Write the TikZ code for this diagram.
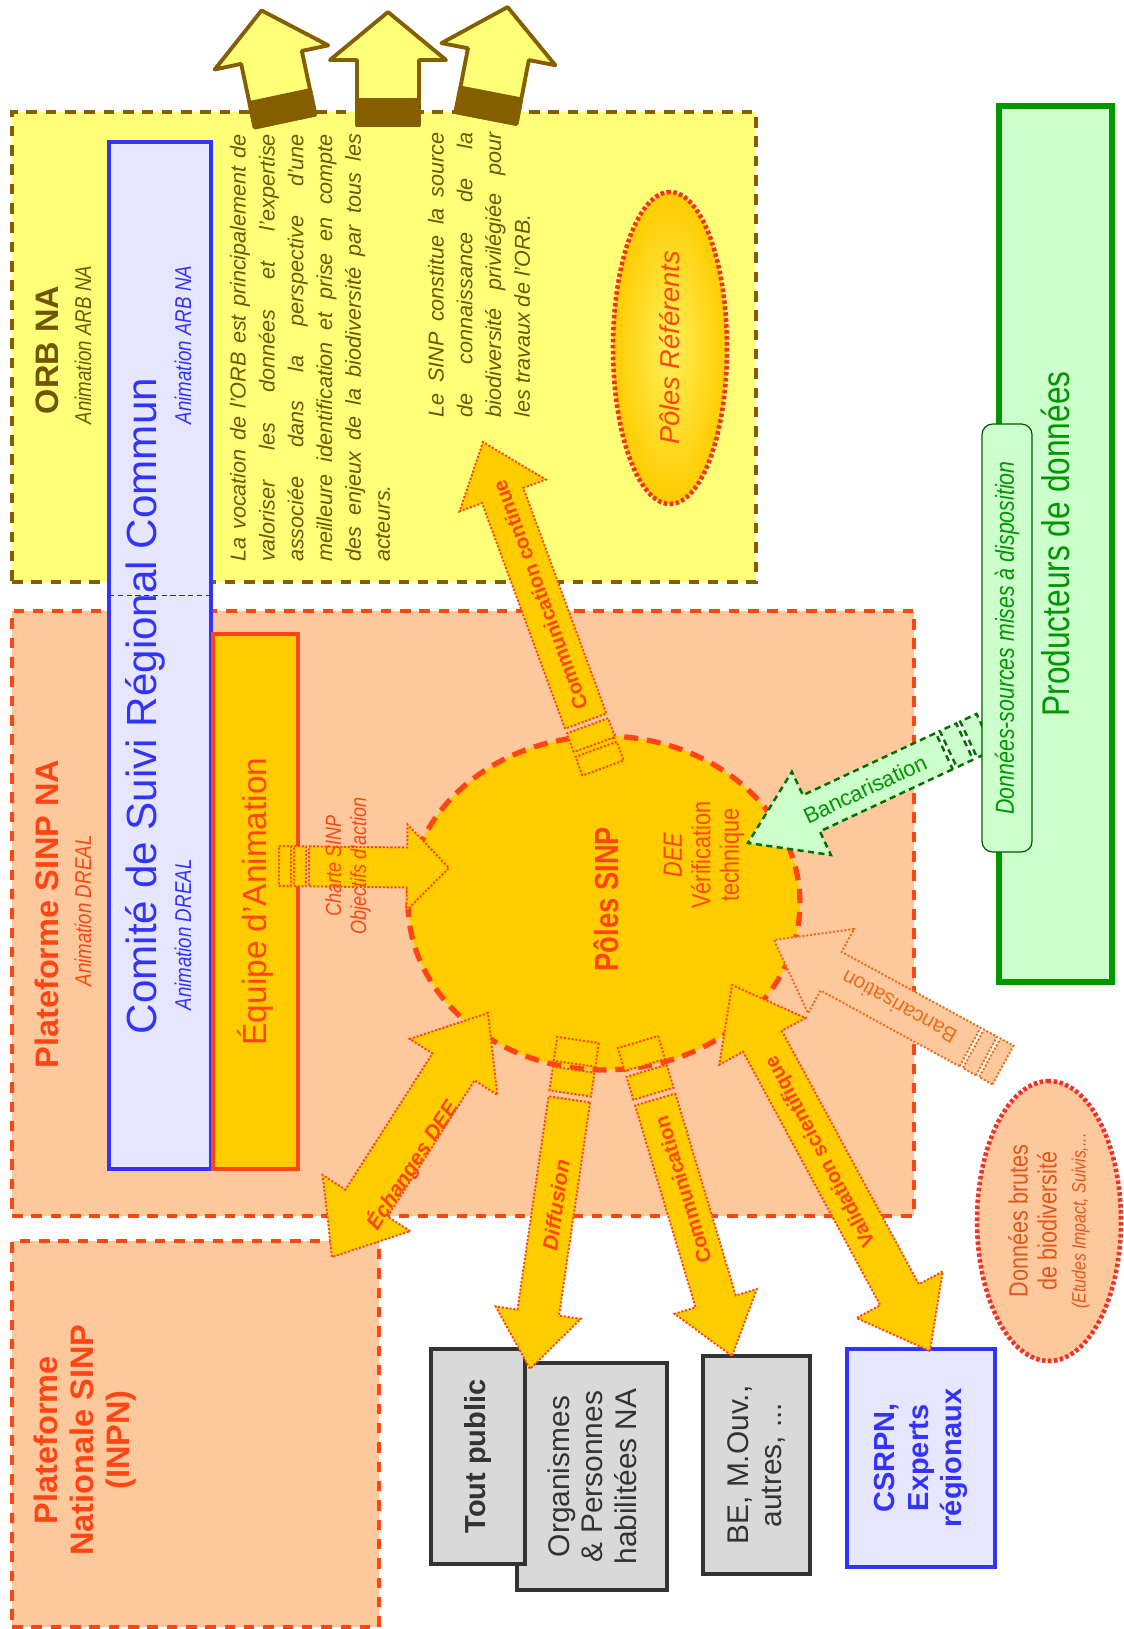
\documentclass[tikz,border=0pt]{standalone}
\usepackage{fontspec}
\setmainfont{Liberation Sans}
\newfontfamily\narrowfont[FakeStretch=0.82]{Liberation Sans}
\usetikzlibrary{calc,shapes.geometric}

\definecolor{orbfill}{RGB}{255,255,120}
\definecolor{orbbrown}{RGB}{133,94,0}
\definecolor{orbtext}{RGB}{112,86,0}
\definecolor{platfill}{RGB}{253,200,155}
\definecolor{sinpred}{RGB}{255,69,20}
\definecolor{sinpgold}{RGB}{255,204,0}
\definecolor{refcenter}{RGB}{255,240,90}
\definecolor{refred}{RGB}{240,50,40}
\definecolor{comitefill}{RGB}{230,230,255}
\definecolor{comiteblue}{RGB}{51,51,255}
\definecolor{prodfill}{RGB}{204,255,204}
\definecolor{prodgreen}{RGB}{0,150,0}
\definecolor{greyfill}{RGB}{217,217,217}
\definecolor{greyline}{RGB}{51,51,51}
\definecolor{bancorange}{RGB}{235,110,30}
\definecolor{brutestext}{RGB}{226,86,30}

\newcommand{\fsz}[2]{\fontsize{#1}{#2}\selectfont}

% striped block arrow: style, tail, tip, shaft, head width, head length, stripe unit (px)
\newcommand{\stripedarrow}[7]{%
  \coordinate (sa1) at ($(#2)!{#7*0.02cm}!(#3)$);
  \coordinate (sa2) at ($(#2)!{1.25*#7*0.02cm}!(#3)$);
  \coordinate (sa3) at ($(#2)!{2.25*#7*0.02cm}!(#3)$);
  \coordinate (sa4) at ($(#2)!{2.5*#7*0.02cm}!(#3)$);
  \coordinate (san) at ($(#3)!{#6*0.02cm}!(#2)$);
  \draw[#1] ($(#2)!{#4*0.02cm}!90:(#3)$) -- ($(sa1)!{#4*0.02cm}!90:(#3)$)
    -- ($(sa1)!{#4*0.02cm}!-90:(#3)$) -- ($(#2)!{#4*0.02cm}!-90:(#3)$) -- cycle;
  \draw[#1] ($(sa2)!{#4*0.02cm}!90:(#3)$) -- ($(sa3)!{#4*0.02cm}!90:(#3)$)
    -- ($(sa3)!{#4*0.02cm}!-90:(#3)$) -- ($(sa2)!{#4*0.02cm}!-90:(#3)$) -- cycle;
  \draw[#1] ($(sa4)!{#4*0.02cm}!90:(#3)$) -- ($(san)!{#4*0.02cm}!90:(#3)$)
    -- ($(san)!{#5*0.02cm}!90:(#3)$) -- (#3)
    -- ($(san)!{#5*0.02cm}!-90:(#3)$) -- ($(san)!{#4*0.02cm}!-90:(#3)$)
    -- ($(sa4)!{#4*0.02cm}!-90:(#3)$) -- cycle;
}
% double block arrow: style, end A, end B, shaft, head width, head length (px)
\newcommand{\doublearrow}[6]{%
  \coordinate (da1) at ($(#2)!{#6*0.02cm}!(#3)$);
  \coordinate (da2) at ($(#3)!{#6*0.02cm}!(#2)$);
  \draw[#1] (#2) -- ($(da1)!{#5*0.02cm}!90:(#3)$) -- ($(da1)!{#4*0.02cm}!90:(#3)$)
    -- ($(da2)!{#4*0.02cm}!90:(#3)$) -- ($(da2)!{#5*0.02cm}!90:(#3)$) -- (#3)
    -- ($(da2)!{#5*0.02cm}!-90:(#3)$) -- ($(da2)!{#4*0.02cm}!-90:(#3)$)
    -- ($(da1)!{#4*0.02cm}!-90:(#3)$) -- ($(da1)!{#5*0.02cm}!-90:(#3)$) -- cycle;
}

\begin{document}
\begin{tikzpicture}[x=0.02cm, y=-0.02cm,
    vert/.style={rotate=90},
    frame/.style={rectangle, inner sep=0pt, line width=2.2pt, dash pattern=on 6pt off 5pt},
    orbframe/.style={frame, draw=orbbrown, fill=orbfill},
    platframe/.style={frame, draw=sinpred, fill=platfill},
    plainbox/.style={rectangle, vert, inner sep=0pt, line width=2.4pt, align=center},
    greybox/.style={plainbox, draw=greyline, fill=greyfill, text=greyline, font=\fsz{17}{19}},
    dotellipse/.style={ellipse, vert, inner sep=0pt, draw=refred, line width=2.6pt,
                       dash pattern=on 2pt off 1.4pt, align=center},
    goldarrow/.style={fill=sinpgold, draw=sinpred, line width=1.1pt, dash pattern=on 1.2pt off 1pt},
    greenarrow/.style={fill=prodfill, draw=prodgreen!75!black, line width=1.4pt, dash pattern=on 3.5pt off 2.5pt},
    peacharrow/.style={fill=platfill, draw=bancorange, line width=1.1pt, dash pattern=on 1.2pt off 1pt},
    arrowlabel/.style={text=sinpred, font=\bfseries\fsz{11.5}{13}},
    heading/.style={vert, font=\bfseries\fsz{18.5}{21}},
    subheading/.style={vert, font=\narrowfont\itshape\fsz{13}{15}},
    orbtop/.pic={
      \filldraw[fill=orbfill, draw=orbbrown, line width=2.2pt, line join=round]
        (-31,0) -- (-31,-65) -- (-58,-65) -- (0,-113) -- (58,-65) -- (31,-65) -- (31,0) -- cycle;
      \filldraw[fill=orbbrown, draw=orbbrown, line width=2.2pt, line join=round] (-31,0) rectangle (31,-25);
    }
  ]
  \useasboundingbox (0,0) rectangle (1123,1629);

  %% Containers
  \node[orbframe, minimum width=14.88cm, minimum height=9.4cm] (orb) at (384,347) {};
  \node[platframe, minimum width=18.04cm, minimum height=12.1cm] (plat) at (463,913.5) {};
  \node[platframe, minimum width=7.34cm, minimum height=7.72cm] (inpn) at (195.5,1434) {};
  \node[plainbox, draw=prodgreen, fill=prodfill, line width=3pt, minimum width=17.52cm, minimum height=2.26cm,
        text=prodgreen, font=\narrowfont\fsz{22}{26}] (prod) at (1055.5,544) {Producteurs de données};

  %% Comite and animation team
  \node[rectangle, inner sep=0pt, draw=comiteblue, fill=comitefill, line width=2.4pt,
        minimum width=2.04cm, minimum height=20.54cm] (comite) at (160,655.5) {};
  \draw[densely dashed, thin, comiteblue!70!black] (109,595) -- (211,595);
  \node[plainbox, draw=sinpred, fill=sinpgold, minimum width=10.7cm, minimum height=1.7cm,
        text=sinpred, font=\fsz{19}{22}] (equipe) at (255.5,901.5) {Équipe d'Animation};

  %% Arrows leaving the ORB
  \pic[rotate=12] at (285,121) {orbtop};
  \pic at (388,125) {orbtop};
  \pic[rotate=-11] at (486,118) {orbtop};

  %% Titles
  \node[heading, text=orbtext] (orbtitle) at (47,350) {ORB NA};
  \node[subheading, text=orbtext] (orbsub) at (83,345) {Animation ARB NA};
  \node[heading, text=sinpred] (plattitle) at (47,914) {Plateforme SINP NA};
  \node[subheading, text=sinpred] (platsub) at (83,911) {Animation DREAL};
  \node[heading, text=sinpred, align=center, font=\bfseries\fsz{18.5}{20.5}] (inpntitle) at (85,1440)
        {Plateforme\\Nationale SINP\\(INPN)};
  \node[vert, text=comiteblue, font=\fsz{24}{28}] (comitetitle) at (145,706) {Comité de Suivi Régional Commun};
  \node[subheading, text=comiteblue] (comiteorb) at (183,345) {Animation ARB NA};
  \node[subheading, text=comiteblue] (comiteplat) at (183,935) {Animation DREAL};

  %% ORB texts
  \node[vert, text=orbtext, text width=8.56cm, align=justify, font=\itshape\fsz{12.3}{16.4}] (vocation) at (310,348)
        {La vocation de l'ORB est principalement de\linebreak valoriser les données et l'expertise\linebreak
         associée dans la perspective d'une\linebreak meilleure identification et prise en compte\linebreak
         des enjeux de la biodiversité par tous les\linebreak acteurs.};
  \node[vert, text=orbtext, text width=5.7cm, align=justify, font=\itshape\fsz{12.3}{16.4}] (sinpsource) at (479,275)
        {Le SINP constitue la source\linebreak de connaissance de la\linebreak
         biodiversité privilégiée pour\linebreak les travaux de l'ORB.};
  \node[dotellipse, inner color=refcenter, outer color=sinpgold, minimum width=6.24cm, minimum height=2.28cm,
        text=sinpred, font=\itshape\fsz{15.5}{18}] (polesref) at (670,348) {Pôles Référents};

  %% Raw data and receivers
  \node[dotellipse, fill=platfill, minimum width=5.6cm, minimum height=2.88cm, text=brutestext,
        font=\narrowfont\fsz{15}{16.5}] (brutes) at (1049,1221)
        {Données brutes\\de biodiversité\\{\itshape\fsz{11}{13}(Etudes Impact, Suivis,...}};
  \node[greybox, minimum width=4.54cm, minimum height=3.0cm] (orgs) at (592,1476.5)
        {Organismes\\\& Personnes\\habilitées NA};
  \node[greybox, font=\bfseries\fsz{16.5}{19}, minimum width=4.3cm, minimum height=1.88cm] (tout) at (478,1456.5)
        {Tout public};
  \node[greybox, minimum width=4.36cm, minimum height=2.14cm] (beautres) at (756.5,1465) {BE, M.Ouv.,\\autres, ...};
  \node[plainbox, draw=comiteblue, fill=comitefill, text=comiteblue, font=\bfseries\fsz{16.5}{19},
        minimum width=4.36cm, minimum height=2.96cm] (csrpn) at (921,1458) {CSRPN,\\Experts\\régionaux};

  %% Poles SINP
  \node[ellipse, inner sep=0pt, fill=sinpgold, draw=sinpred, line width=3pt, dash pattern=on 8pt off 5pt,
        minimum width=7.84cm, minimum height=6.68cm] (sinp) at (604,903) {};
  \node[vert, text=sinpred, font=\narrowfont\bfseries\fsz{19}{22}] (sinptitle) at (606,899) {Pôles SINP};
  \node[vert, text=sinpred, align=center, font=\narrowfont\fsz{15}{16.2}] (sinpdee) at (704,855)
        {\textit{DEE}\\Vérification\\technique};

  %% Arrow ends
  \coordinate (charteS) at (279,866);
  \coordinate (charteT) at (449,868);
  \coordinate (ccS) at (603,768);
  \coordinate (ccT) at (483,442);
  \coordinate (echA) at (332,1257);
  \coordinate (echB) at (488,1013);
  \coordinate (diffS) at (578,1040);
  \coordinate (diffT) at (530,1369);
  \coordinate (commS) at (638,1042);
  \coordinate (commT) at (732,1356);
  \coordinate (valA) at (930,1351);
  \coordinate (valB) at (732,985);
  \coordinate (bgS) at (985,732);
  \coordinate (bgT) at (748,843);
  \coordinate (bpS) at (1003,1065);
  \coordinate (bpT) at (774,940);

  %% Block arrows
  \stripedarrow{goldarrow}{charteS}{charteT}{20}{43}{42}{12}
  \stripedarrow{goldarrow}{ccS}{ccT}{22}{46}{57}{20}
  \doublearrow{goldarrow}{echA}{echB}{25}{52}{64}
  \stripedarrow{goldarrow}{diffS}{diffT}{21}{43}{57}{24}
  \stripedarrow{goldarrow}{commS}{commT}{21}{43}{57}{24}
  \doublearrow{goldarrow}{valA}{valB}{22}{49}{64}
  \stripedarrow{greenarrow}{bgS}{bgT}{20}{46}{70}{18}
  \stripedarrow{peacharrow}{bpS}{bpT}{22}{48}{65}{15}

  \node[plainbox, rounded corners=6pt, draw=prodgreen!60!black, fill=prodfill, line width=0.7pt,
        minimum width=8.56cm, minimum height=1.0cm, text=prodgreen,
        font=\narrowfont\itshape\fsz{14.8}{16}] (tag) at (1007,638) {Données-sources mises à disposition};

  %% Arrow labels
  \node[vert, text=sinpred, align=center, font=\narrowfont\itshape\fsz{12.5}{14.2}] (chartelabel) at (348,866)
        {Charte SINP\\Objectifs d'action};
  \node[arrowlabel, rotate=110] (cclabel) at (540,595) {Communication continue};
  \node[arrowlabel, font=\bfseries\itshape\fsz{12}{14}, rotate=57] (echlabel) at (412,1165) {Échanges DEE};
  \node[arrowlabel, font=\bfseries\itshape\fsz{12}{14}, rotate=82] (difflabel) at (556,1205) {Diffusion};
  \node[arrowlabel, rotate=107] (commlabel) at (683,1190) {Communication};
  \node[arrowlabel, rotate=118] (vallabel) at (821,1151) {Validation scientifique};
  \node[text=prodgreen, font=\fsz{12.5}{14}, rotate=25] (bglabel) at (865,789) {Bancarisation};
  \node[text=bancorange, font=\fsz{12}{14}, rotate=151] (bplabel) at (899,1007) {Bancarisation};

\end{tikzpicture}
\end{document}
